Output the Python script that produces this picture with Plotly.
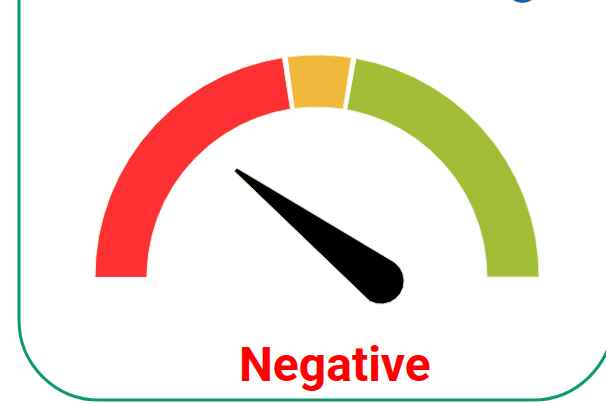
import numpy as np
import plotly.graph_objects as go

# ---- data ----
segment_names = ["Negative", "Neutral", "Positive"]
segment_edges = [0, 45.4, 55.3, 100]          # gauge scale 0..100
segment_colors = ["#fd3034", "#f0b93b", "#a0bd35"]
needle_value = 20.8
label_text = "Negative"

# ---- geometry / style ----
W, H = 606, 403
CX, CY = 317, 277
R_OUT, R_IN = 222, 170
GAP_DEG = 0.7
PIV_X, PIV_Y = 381, 281
NEEDLE_LEN = 183
NEEDLE_BASE = 23
NEEDLE_TIP_HALF = 2


def val_to_deg(v):
    return 180.0 - v * 1.8


fig = go.Figure()

for i, name in enumerate(segment_names):
    a0 = val_to_deg(segment_edges[i]) - (GAP_DEG if i > 0 else 0)
    a1 = val_to_deg(segment_edges[i + 1]) + (GAP_DEG if i < len(segment_names) - 1 else 0)
    t = np.radians(np.linspace(a0, a1, 120))
    xs = np.concatenate([CX + R_OUT * np.cos(t), CX + R_IN * np.cos(t[::-1])])
    ys = np.concatenate([CY - R_OUT * np.sin(t), CY - R_IN * np.sin(t[::-1])])
    fig.add_trace(go.Scatter(
        x=xs, y=ys, mode="lines", fill="toself",
        fillcolor=segment_colors[i],
        line=dict(color="#f1edcc", width=1),
        name=name, hoverinfo="name",
    ))

# needle (blunt tip + rounded base)
phi = np.radians(val_to_deg(needle_value))
ux, uy = np.cos(phi), -np.sin(phi)          # direction in screen coords
px_, py_ = -uy, ux                          # perpendicular
tip_x = PIV_X + NEEDLE_LEN * ux
tip_y = PIV_Y + NEEDLE_LEN * uy
alpha = np.arccos(NEEDLE_BASE / NEEDLE_LEN)
arc = np.linspace(phi + alpha, phi + 2 * np.pi - alpha, 80)
nx = np.concatenate([[tip_x - NEEDLE_TIP_HALF * px_],
                     PIV_X + NEEDLE_BASE * np.cos(arc),
                     [tip_x + NEEDLE_TIP_HALF * px_]])
ny = np.concatenate([[tip_y - NEEDLE_TIP_HALF * py_],
                     PIV_Y - NEEDLE_BASE * np.sin(arc),
                     [tip_y + NEEDLE_TIP_HALF * py_]])
fig.add_trace(go.Scatter(
    x=nx, y=ny, mode="lines", fill="toself", fillcolor="#000000",
    line=dict(color="#d9d5b0", width=1), hoverinfo="skip", name="needle",
))

# rounded frame
L, R, B, T, RAD = 19, 613, 400, -60, 80
k = 0.5523 * RAD
frame = (f"M {L},{T} L {L},{B-RAD} C {L},{B-RAD+k} {L+RAD-k},{B} {L+RAD},{B} "
         f"L {R-RAD},{B} C {R-RAD+k},{B} {R},{B-RAD+k} {R},{B-RAD} L {R},{T}")
fig.add_shape(type="path", path=frame, xref="x", yref="y",
              line=dict(color="#0b9a70", width=3), fillcolor="rgba(0,0,0,0)")

# partial blue logo at top right
fig.add_shape(type="circle", xref="x", yref="y", x0=507, x1=538, y0=-26, y1=3,
              fillcolor="#1a5fae", line=dict(width=0))

fig.add_annotation(x=335, y=364, xref="x", yref="y", text=label_text,
                   showarrow=False, xanchor="center", yanchor="middle",
                   font=dict(family="Roboto", size=48, color="#ff0000", weight=700))

fig.update_xaxes(range=[0, W], visible=False, fixedrange=True)
fig.update_yaxes(range=[H, 0], visible=False, fixedrange=True)
fig.update_layout(width=W, height=H, margin=dict(l=0, r=0, t=0, b=0),
                  paper_bgcolor="white", plot_bgcolor="white", showlegend=False)

fig.write_html("out.html", config={"displayModeBar": False},
               post_script="document.body.style.margin='0';document.body.style.overflow='hidden';")
